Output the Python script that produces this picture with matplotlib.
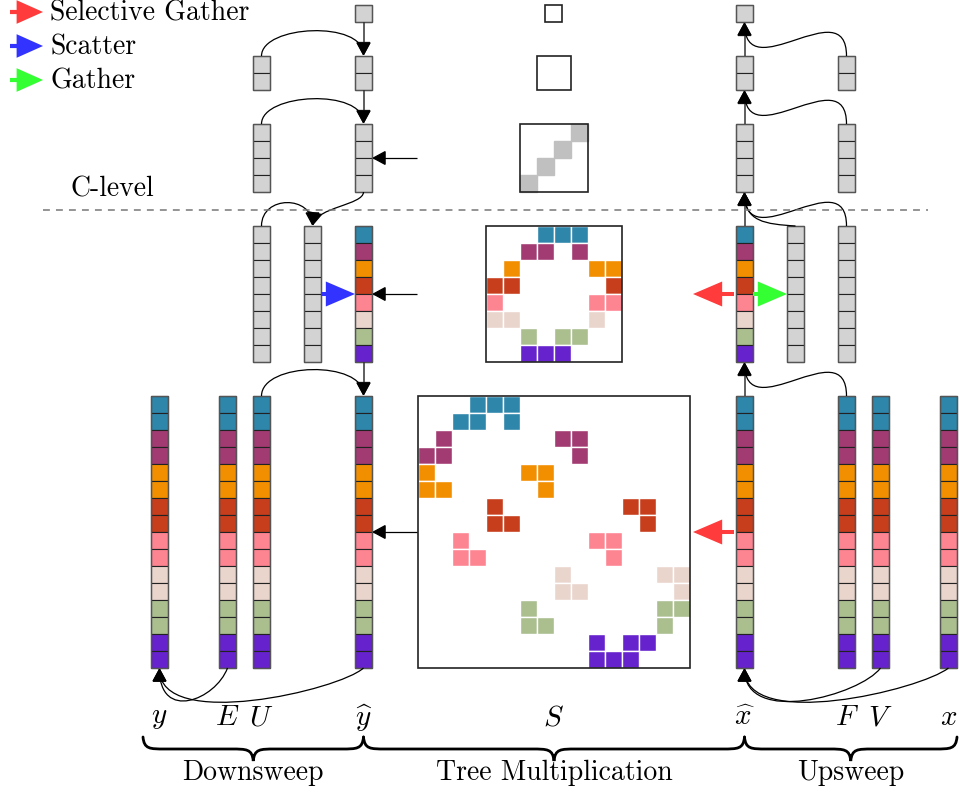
import numpy as np
import matplotlib
matplotlib.use('Agg')
import matplotlib.pyplot as plt
from matplotlib.patches import Rectangle, FancyArrowPatch, PathPatch
from matplotlib.path import Path

plt.rcParams['font.family'] = ['cmr10', 'DejaVu Serif']
plt.rcParams['mathtext.fontset'] = 'cm'
plt.rcParams['axes.unicode_minus'] = False

# one colour per block of the C-level
colors = ['#2E86AB', '#A23B72', '#F18F01', '#C73E1D', '#FD8592', '#EAD5CD', '#AABE8E', '#6622CC']
gray = '#D3D3D3'
silver = '#C0C0C0'

# number of cells per level, coarsest first
level_sizes = [1, 2, 4, 8, 16]

# non-zero columns of each row of S, per level
S1_cols = [[]]
S2_cols = [[], []]
S4_cols = [[3], [2], [1], [0]]
S8_cols = [[3, 4, 5], [2, 3, 5], [1, 6, 7], [0, 1, 7],
           [0, 6, 7], [0, 1, 6], [2, 4, 5], [2, 3, 4]]
S16_cols = [[3, 4, 5], [2, 3, 5], [1, 8, 9], [0, 1, 9],
            [0, 6, 7], [0, 1, 7], [4, 12, 13], [4, 5, 13],
            [2, 10, 11], [2, 3, 11], [8, 14, 15], [8, 9, 15],
            [6, 14, 15], [6, 7, 14], [10, 12, 13], [10, 11, 12]]
S_cols = [S1_cols, S2_cols, S4_cols, S8_cols, S16_cols]

bottom_labels = ['$y$', '$E$', '$U$', '$\\widehat{y}$', '$S$',
                 '$\\widehat{x}$', '$F$', '$V$', '$x$']
phase_labels = ['Downsweep', 'Tree Multiplication', 'Upsweep']
legend_labels = ['Selective Gather', 'Scatter', 'Gather']
legend_colors = ['#FF3B3B', '#3333FF', '#33FF33']

# ---- layout (pixels) ----
W, H = 959, 793
cell = 17
gap = 34
tops = [0] * 5
tops[4] = 396
for k in range(3, -1, -1):
    tops[k] = tops[k + 1] - gap - level_sizes[k] * cell
mat_cx = 553.5
xs = {'y': 151, 'E': 219, 'U': 253, 'yh': 355, 'xh': 736, 'F': 838, 'V': 872, 'x': 940}
mid_gray = [253, 304, 787, 838]


def cx(x):
    return x + cell / 2


fig = plt.figure(figsize=(W / 100, H / 100), dpi=100)
ax = fig.add_axes([0, 0, 1, 1])
ax.set_xlim(0, W)
ax.set_ylim(H, 0)
ax.axis('off')


def draw_vector(x, lev, colored):
    n = level_sizes[lev]
    for i in range(n):
        if colored:
            fc = colors[i * 8 // n]
        else:
            fc = gray
        ax.add_patch(Rectangle((x, tops[lev] + i * cell), cell, cell,
                               facecolor=fc, edgecolor='#222222', lw=0.8))
    ax.add_patch(Rectangle((x, tops[lev]), cell, n * cell, fill=False,
                           edgecolor='#555555', lw=1.0))


def draw_matrix(lev):
    n = level_sizes[lev]
    x0 = mat_cx - n * cell / 2
    y0 = tops[lev]
    for r, row in enumerate(S_cols[lev]):
        for c in row:
            if n >= 8:
                fc = colors[r * 8 // n]
                ec = 'white'
            else:
                fc = silver
                ec = silver
            ax.add_patch(Rectangle((x0 + c * cell, y0 + r * cell), cell, cell,
                                   facecolor=fc, edgecolor=ec, lw=1.0))
    ax.add_patch(Rectangle((x0, y0), n * cell, n * cell, fill=False,
                           edgecolor='#222222', lw=1.2))


def black_arrow(verts, head=True, color='black', lw=0.9):
    if len(verts) == 2:
        codes = [Path.MOVETO, Path.LINETO]
    else:
        codes = [Path.MOVETO, Path.CURVE4, Path.CURVE4, Path.CURVE4]
    style = '-|>,head_length=8.5,head_width=4.6' if head else '-'
    ax.add_patch(FancyArrowPatch(path=Path(verts, codes), arrowstyle=style,
                                 mutation_scale=1, color=color, lw=lw,
                                 joinstyle='miter', capstyle='butt'))


def fat_arrow(p0, p1, color):
    ax.add_patch(FancyArrowPatch(p0, p1,
                                 arrowstyle='simple,head_length=21,head_width=18,tail_width=2.9',
                                 mutation_scale=1, color=color, lw=0,
                                 shrinkA=0, shrinkB=0))


def brace(x0, x1, y, d, r=22):
    xm = (x0 + x1) / 2
    ym = y + d / 2
    verts = [(x0, y), (x0 + 0.05 * r, ym), (x0 + 0.3 * r, ym), (x0 + r, ym),
             (xm - r, ym),
             (xm - 0.3 * r, ym), (xm - 0.05 * r, ym), (xm, y + d),
             (xm + 0.05 * r, ym), (xm + 0.3 * r, ym), (xm + r, ym),
             (x1 - r, ym),
             (x1 - 0.3 * r, ym), (x1 - 0.05 * r, ym), (x1, y)]
    codes = [Path.MOVETO, Path.CURVE4, Path.CURVE4, Path.CURVE4, Path.LINETO,
             Path.CURVE4, Path.CURVE4, Path.CURVE4,
             Path.CURVE4, Path.CURVE4, Path.CURVE4, Path.LINETO,
             Path.CURVE4, Path.CURVE4, Path.CURVE4]
    ax.add_patch(PathPatch(Path(verts, codes), fill=False, lw=2.0,
                           edgecolor='black', capstyle='round'))


# ---- matrices ----
for lev in range(5):
    draw_matrix(lev)

# ---- vectors ----
for key in ['y', 'E', 'U', 'yh', 'xh', 'F', 'V', 'x']:
    draw_vector(xs[key], 4, True)
draw_vector(xs['yh'], 3, True)
draw_vector(xs['xh'], 3, True)
for x in mid_gray:
    draw_vector(x, 3, False)
for lev in [1, 2]:
    for x in [253, xs['yh'], xs['xh'], 838]:
        draw_vector(x, lev, False)
draw_vector(xs['yh'], 0, False)
draw_vector(xs['xh'], 0, False)

# ---- C-level line ----
ax.plot([43, 928], [210, 210], color='#777777', lw=1.1, linestyle=(0, (4.5, 4)))
ax.text(112, 189, 'C-level', fontsize=20, ha='center', va='center')

# ---- downsweep arrows (left) ----
yc = cx(xs['yh'])
for lev in [0, 1]:
    black_arrow([(yc, tops[lev] + level_sizes[lev] * cell), (yc, tops[lev + 1])],
                color='#333333', lw=1.1)
for lev in [1, 2]:
    t = tops[lev]
    black_arrow([(cx(253), t), (cx(253), t - 31), (yc, t - 36), (yc, t)])
t = tops[3]
black_arrow([(cx(253), t), (cx(253), t - 31), (cx(304), t - 31), (cx(304), t)])
black_arrow([(yc, tops[2] + 4 * cell), (yc, tops[2] + 4 * cell + 13),
             (cx(304) + 4, t - 19), (cx(304), t)])
black_arrow([(yc, tops[3] + 8 * cell), (yc, tops[4])], color='#333333', lw=1.1)
t = tops[4]
black_arrow([(cx(xs['U']), t), (cx(xs['U']), t - 34), (yc, t - 36), (yc, t)])
b = tops[4] + 16 * cell
black_arrow([(cx(xs['E']), b), (cx(xs['E']) - 12, b + 32), (cx(xs['y']), b + 54),
             (cx(xs['y']), b)])
black_arrow([(yc, b), (yc - 24, b + 22), (cx(xs['y']), b + 64), (cx(xs['y']), b)])

# matrix products into y-hat
for lev in [2, 3, 4]:
    ym = tops[lev] + level_sizes[lev] * cell / 2
    black_arrow([(417, ym), (xs['yh'] + cell, ym)])

# ---- upsweep arrows (right) ----
xc = cx(xs['xh'])
for lev in [0, 1, 2, 3]:
    black_arrow([(xc, tops[lev + 1]), (xc, tops[lev] + level_sizes[lev] * cell)],
                color='#333333', lw=1.1)
    s = tops[lev + 1]
    black_arrow([(cx(838), s), (cx(838), s - 66), (xc, s + 34),
                 (xc, tops[lev] + level_sizes[lev] * cell)])
s = tops[3]
black_arrow([(cx(787), s), (cx(787) - 30, s - 2), (xc, s - 4),
             (xc, tops[2] + 4 * cell)])
b = tops[4] + 16 * cell
black_arrow([(cx(xs['V']), b), (cx(xs['V']) - 20, b + 27), (xc, b + 59), (xc, b)])
black_arrow([(cx(xs['x']), b), (cx(xs['x']) - 28, b + 22), (xc, b + 64), (xc, b)])

# ---- coloured arrows ----
for lev in [3, 4]:
    ym = tops[lev] + level_sizes[lev] * cell / 2
    fat_arrow((xs['xh'] - 2, ym), (693, ym), legend_colors[0])
ym = tops[3] + 8 * cell / 2
fat_arrow((xs['xh'] + cell, ym), (787, ym), legend_colors[2])
fat_arrow((321, ym), (xs['yh'], ym), legend_colors[1])

# ---- legend ----
for i, (lab, col) in enumerate(zip(legend_labels, legend_colors)):
    yy = 12 + i * 34
    ax.add_patch(FancyArrowPatch((10, yy), (43, yy),
                                 arrowstyle='simple,head_length=19,head_width=17,tail_width=3',
                                 mutation_scale=1, color=col, lw=0,
                                 shrinkA=0, shrinkB=0))
    ax.text(50, yy + 1, lab, fontsize=20, ha='left', va='center')

# ---- bottom labels ----
label_x = [cx(xs['y']), cx(xs['E']), cx(xs['U']), cx(xs['yh']), mat_cx,
           cx(xs['xh']), cx(xs['F']), cx(xs['V']), cx(xs['x'])]
for lx, lab in zip(label_x, bottom_labels):
    ax.text(lx, 718, lab, fontsize=21, ha='center', va='center')

# ---- braces ----
ends = [143, yc, xc, 957]
for i, lab in enumerate(phase_labels):
    brace(ends[i], ends[i + 1], 737, 24)
    ax.text((ends[i] + ends[i + 1]) / 2, 773, lab, fontsize=20,
            ha='center', va='center')

fig.savefig('out.png', dpi=100)
